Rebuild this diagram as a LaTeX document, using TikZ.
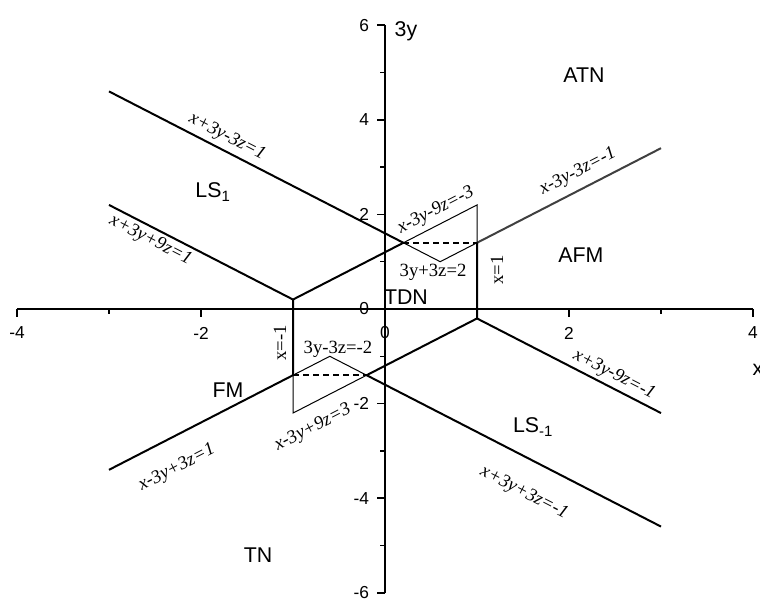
\documentclass[tikz,border=0pt]{standalone}
\usepackage{fontspec}
\setmainfont{Liberation Serif}
\setsansfont{Liberation Sans}
\begin{document}
\begin{tikzpicture}[x=69pt,y=35.475pt,
  thickline/.style={line width=1.5pt,line join=miter},
  thinline/.style={line width=0.75pt},
  dashline/.style={line width=1.1pt,dash pattern=on 4.5pt off 3pt},
  axisline/.style={line width=1.1pt},
  eqlab/.style={font=\fontsize{14}{16}\selectfont\itshape,inner sep=0pt},
  equp/.style={font=\fontsize{14}{16}\selectfont,inner sep=0pt},
  region/.style={font=\sffamily\fontsize{16}{18}\selectfont,inner sep=0pt},
  ticklab/.style={font=\sffamily\fontsize{13}{15}\selectfont,inner sep=0pt}]
\useasboundingbox (-4.1848,-6.1311) rectangle (4.0761,6.5328);

% key points
\coordinate (A1) at (-3,4.6);
\coordinate (P) at (0.2,1.4);
\coordinate (B1) at (-3,2.2);
\coordinate (U) at (-1,0.2);
\coordinate (Q1) at (1,1.4);
\coordinate (C1) at (3,3.4);
\coordinate (T1) at (1,2.2);
\coordinate (M1) at (0.6,1.0);
\coordinate (R) at (1,-0.2);
\coordinate (D1) at (3,-2.2);
\coordinate (Q) at (-0.2,-1.4);
\coordinate (E1) at (3,-4.6);
\coordinate (L1) at (-1,-1.4);
\coordinate (F1) at (-3,-3.4);
\coordinate (T2) at (-1,-2.2);
\coordinate (M2) at (-0.6,-1.0);

% tick labels
\foreach \i in {-4,-2,0,2,4} \node[ticklab] (xl\i) at (\i,-0.507) {\i};
\foreach \j in {-6,-4,-2,0,2,4,6} \node[ticklab,anchor=east] (yl\j) at (-0.17,\j) {\j};

% axes
\coordinate (XL) at (-4,0); \coordinate (XR) at (4,0);
\coordinate (YB) at (0,-6); \coordinate (YT) at (0,6);
\draw[axisline] (XL) -- (XR);
\draw[axisline] (YB) -- (YT);
\foreach \i in {-4,-2,0,2,4} \draw[axisline] (\i,0) -- ++(0,-6pt);
\foreach \i in {-3,-1,1,3} \draw[axisline] (\i,0) -- ++(0,-3.75pt);
\foreach \j in {-6,-4,-2,0,2,4,6} \draw[axisline] (0,\j) -- ++(-6pt,0);
\foreach \j in {-5,-3,-1,1,3,5} \draw[axisline] (0,\j) -- ++(-3.75pt,0);
\node[region] (ylab) at (0.228,5.877) {3y};
\node[region] (xlab) at (4.054,-1.29) {x};

% thick boundaries
\draw[thickline] (A1) -- (P);
\draw[thickline] (B1) -- (U) -- (P);
\draw[thickline,draw=black!75] (Q1) -- (C1);
\draw[thickline] (Q1) -- (R) -- (D1);
\draw[thickline] (R) -- (Q) -- (E1);
\draw[thickline] (F1) -- (L1) -- (U);

% thin triangles
\draw[thinline] (P) -- (T1) -- (Q1);
\draw[thinline] (P) -- (M1) -- (Q1);
\draw[dashline] (P) -- (Q1);
\draw[thinline] (L1) -- (T2) -- (Q);
\draw[thinline] (L1) -- (M2) -- (Q);
\draw[dashline] (L1) -- (Q);

% equation labels
\node[eqlab,rotate=-27.2] (e1) at (-1.717,3.636) {x+3y-3z=1};
\node[eqlab,rotate=-27.2] (e2) at (-2.55,1.45) {x+3y+9z=1};
\node[eqlab,rotate=27.2] (e3) at (0.554,2.079) {x-3y-9z=-3};
\node[equp] (e4) at (0.522,0.782) {3y+3z=2};
\node[equp,rotate=90] (e5) at (1.217,0.825) {x=1};
\node[equp,rotate=90] (e6) at (-1.141,-0.719) {x=-1};
\node[equp] (e7) at (-0.511,-0.846) {3y-3z=-2};
\node[eqlab,rotate=27.2] (e8) at (-0.783,-2.516) {x-3y+9z=3};
\node[eqlab,rotate=27.2] (e9) at (2.098,2.896) {x-3y-3z=-1};
\node[eqlab,rotate=-27.2] (e10) at (2.489,-1.395) {x+3y-9z=-1};
\node[eqlab,rotate=27.2] (e11) at (-2.261,-3.362) {x-3y+3z=1};
\node[eqlab,rotate=-27.2] (e12) at (1.511,-3.890) {x+3y+3z=-1};

% region labels
\node[region] (atn) at (2.163,4.947) {ATN};
\node[region] (ls1) at (-1.87,2.47) {LS\textsubscript{1}};
\node[region] (afm) at (2.130,1.142) {AFM};
\node[region] (tdn) at (0.228,0.254) {TDN};
\node[region] (fm) at (-1.707,-1.712) {FM};
\node[region] (lsm) at (1.609,-2.495) {LS\textsubscript{-1}};
\node[region] (tn) at (-1.380,-5.201) {TN};
\end{tikzpicture}
\end{document}
